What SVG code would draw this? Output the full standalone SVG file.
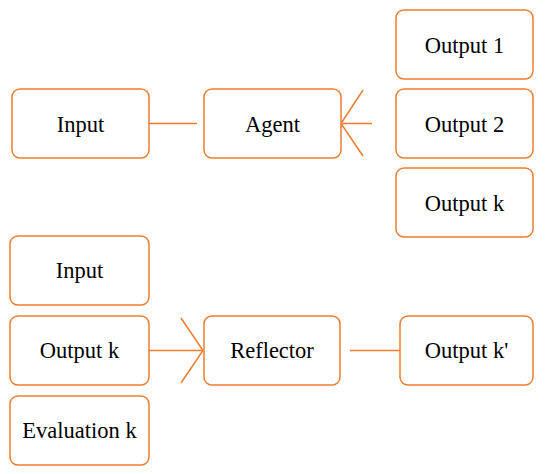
<svg xmlns="http://www.w3.org/2000/svg" width="550" height="474" viewBox="0 0 550 474">
<defs>
<style>
.box{fill:#fff;stroke:#ED7D31;stroke-width:1.5}
.ln{fill:none;stroke:#ED7D31;stroke-width:1.5}
</style>
</defs>
<rect width="550" height="474" fill="#fff"/>
<g id="connectors">
<line class="ln" x1="149" y1="123.5" x2="197" y2="123.5"/>
<line class="ln" x1="341" y1="123.5" x2="372" y2="123.5"/>
<polyline class="ln" points="363,90 341,123.5 363,156"/>
<line class="ln" x1="149" y1="350.5" x2="203" y2="350.5"/>
<polyline class="ln" points="181,318 203,350.5 181,383"/>
<line class="ln" x1="350" y1="350.5" x2="400" y2="350.5"/>
</g>
<g font-family="'Liberation Serif', 'DejaVu Serif', serif" font-size="22.5" text-anchor="middle" fill="#000">
<g id="input1"><rect class="box" x="12" y="89" width="137" height="69" rx="8"/><text x="80.5" y="131.5">Input</text></g>
<g id="agent"><rect class="box" x="204" y="89" width="137" height="69" rx="8"/><text x="272.5" y="131.5">Agent</text></g>
<g id="output1"><rect class="box" x="396" y="10" width="137" height="69" rx="8"/><text x="464.5" y="52.5">Output 1</text></g>
<g id="output2"><rect class="box" x="396" y="89" width="137" height="69" rx="8"/><text x="464.5" y="131.5">Output 2</text></g>
<g id="outputk"><rect class="box" x="396" y="168" width="137" height="69" rx="8"/><text x="464.5" y="210.5">Output k</text></g>
<g id="input2"><rect class="box" x="10" y="236" width="139" height="69" rx="8"/><text x="79.5" y="278">Input</text></g>
<g id="outputk2"><rect class="box" x="10" y="316" width="139" height="69" rx="8"/><text x="79.5" y="358">Output k</text></g>
<g id="evalk"><rect class="box" x="10" y="396" width="139" height="69" rx="8"/><text x="79.5" y="438">Evaluation k</text></g>
<g id="reflector"><rect class="box" x="204" y="316" width="136" height="69" rx="8"/><text x="272" y="358">Reflector</text></g>
<g id="outputkp"><rect class="box" x="400" y="316" width="133" height="69" rx="8"/><text x="466.5" y="358">Output k'</text></g>
</g>
</svg>
